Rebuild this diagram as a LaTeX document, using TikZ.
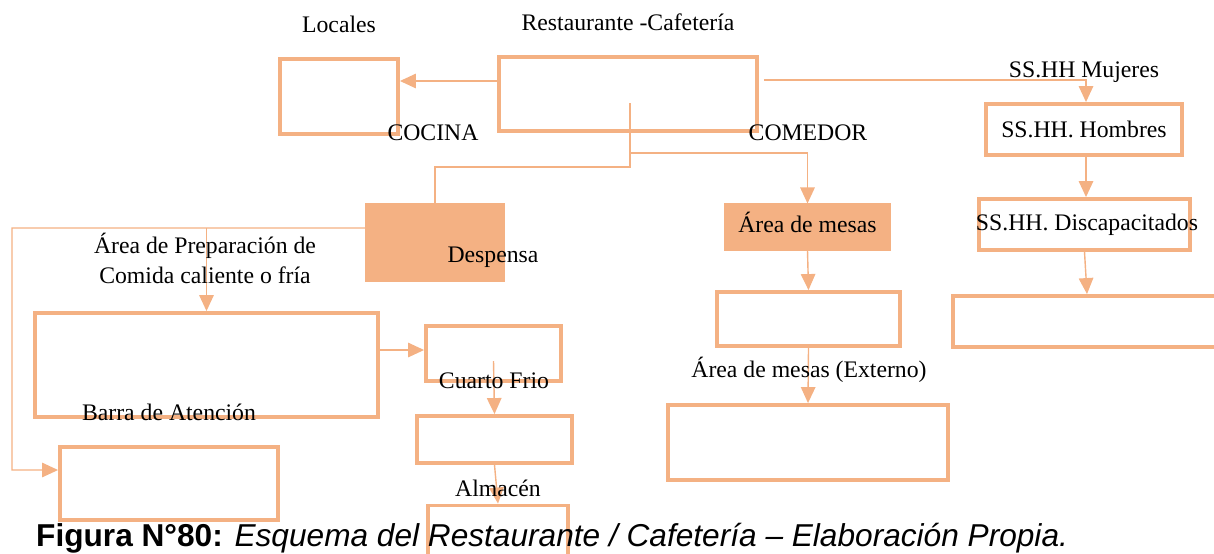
\documentclass[tikz,border=0pt]{standalone}
\usepackage{fontspec}
\setmainfont{Liberation Serif}
\newfontfamily\capfont{Liberation Sans}
\usepackage{tikz}
\usetikzlibrary{arrows.meta,positioning}
\definecolor{MyPeach}{RGB}{244,177,131}

\begin{document}
\begin{tikzpicture}[x=0.2mm,y=-0.2mm, every node/.style={font=\fontsize{13.5}{17}\selectfont,align=center},
box/.style={draw=MyPeach,line width=2.2pt,inner sep=0pt},
fillbox/.style={fill=MyPeach,draw=MyPeach,line width=0.6pt,inner sep=0pt},
line/.style={draw=MyPeach,line width=0.8pt},
arrow/.style={line,-{Triangle[length=3.2mm,width=2.9mm]}}]
\useasboundingbox (0,0) rectangle (1214,553);
% cajas
\node[box,minimum width=23.6mm,minimum height=15mm] (locales) at (339,96.5) {};
\node[box,minimum width=51.6mm,minimum height=14.8mm] (rest) at (628,94) {};
\node[box,minimum width=39.2mm,minimum height=10.2mm] (hombres) at (1084,129.5) {SS.HH. Hombres};
\node[box,minimum width=42.2mm,minimum height=10.2mm] (discap) at (1084.5,224.5) {};
\node[box,minimum width=54.4mm,minimum height=10.2mm] (sshh) at (1089,321.5) {};
\node[fillbox,minimum width=27.6mm,minimum height=15.4mm] (despensa) at (435,242.5) {};
\node[fillbox,minimum width=33mm,minimum height=9.2mm] (mesas) at (807.5,227) {};
\node[box,minimum width=36.6mm,minimum height=10.8mm] (mesasint) at (808.5,319) {};
\node[box,minimum width=56mm,minimum height=15mm] (externo) at (808,442.5) {};
\node[box,minimum width=68.6mm,minimum height=20.8mm] (prep) at (206.5,365) {};
\node[box,minimum width=43.6mm,minimum height=14.6mm] (barra) at (169,483.5) {};
\node[box,minimum width=27mm,minimum height=11mm] (cuarto) at (493.5,353.5) {};
\node[box,minimum width=31mm,minimum height=9.4mm] (frio) at (494.5,439.5) {};
\node[box,minimum width=28mm,minimum height=11.8mm] (almacen) at (498,535) {};
% conectores
\coordinate (trunk) at (630,103);
\coordinate (fork) at (630,167);
\coordinate (bend) at (12,228);
\draw[arrow] ([yshift=2.6mm]rest.west) -- ([yshift=2.6mm]rest.west -| locales.east);
\draw[arrow] ([xshift=1mm,yshift=2.8mm]rest.east) -| ([xshift=0.4mm]hombres.north);
\draw[arrow] ([xshift=0.4mm]hombres.south) -- ([xshift=0.4mm]hombres.south |- discap.north);
\draw[arrow] (discap.south) -- ([xshift=0.5mm]discap.south |- sshh.north);
\draw[line] (trunk) -- (fork) -| (despensa.north);
\draw[arrow] (trunk |- 0,153) -| (mesas.north);
\draw[arrow] (mesas.south) -- (mesasint.north);
\draw[arrow] (mesasint.south) -- (externo.north);
\draw[arrow] ([yshift=2.9mm]despensa.west) -- (bend) |- ([yshift=2.7mm]barra.west);
\draw[arrow] (bend -| prep.north) -- (prep.north);
\draw[arrow] ([yshift=3mm]prep.east) -- ([yshift=3mm]prep.east -| cuarto.west);
\draw[arrow] ([yshift=-1.5mm]cuarto.center) -- (frio.north);
\draw[arrow] (frio.south) -- (almacen.north);
% textos
\node (tlocales) at (339,24) {Locales};
\node (trest) at (628,22) {Restaurante -Cafetería};
\node (tcocina) at (433,133) {COCINA};
\node (tcomedor) at (808,133) {COMEDOR};
\node (tmujeres) at (1084,72) {SS.HH Mujeres};
\node (tdiscap) at (1087,225) {SS.HH. Discapacitados};
\node (tmesas) at (807.5,222) {Área de mesas};
\node (tprep) at (205,258) {Área de Preparación de\\Comida caliente o fría};
\node (tdespensa) at (493,257) {Despensa};
\node (tbarra) at (169,412) {Barra de Atención};
\node (tcuarto) at (494,381) {Cuarto Frio};
\node (talmacen) at (498,488) {Almacén};
\node (texterno) at (809,370) {Área de mesas (Externo)};
\node[anchor=west,font=\capfont\fontsize{18}{21}\selectfont] (caption) at (30,538)
  {\textbf{Figura N°80:} \textit{Esquema del Restaurante / Cafetería – Elaboración Propia.}};
\end{tikzpicture}
\end{document}
